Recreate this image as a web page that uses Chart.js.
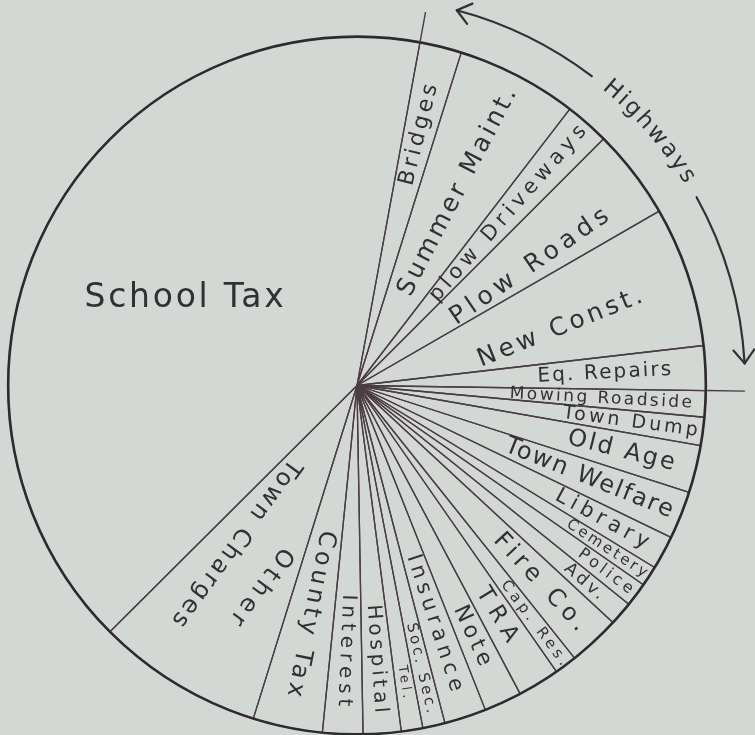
<!DOCTYPE html>
<html><head><meta charset="utf-8">
<script src="https://cdn.jsdelivr.net/npm/chart.js@4.4.0/dist/chart.umd.min.js"></script>
<style>html,body{margin:0;padding:0;background:#d3d8d5;}canvas{display:block;}</style>
</head><body>
<canvas id="c" width="755" height="735"></canvas>
<script>
// ---- data (share of town budget, %) ----
const categories = ["Bridges","Summer Maint.","plow Driveways","Plow Roads","New Const.","Eq. Repairs","Mowing Roadside","Town Dump","Old Age","Town Welfare","Library","Cemetery","Police","Adv.","Fire Co.","Cap. Res.","TRA","Note","Insurance","Soc. Sec.","Tel.","Hospital","Interest","County Tax","Other Town Charges","School Tax"];
const values = [1.94,5.61,2.06,4.17,6.50,2.06,1.22,1.31,2.19,2.22,1.56,0.94,1.11,1.11,2.39,1.03,1.94,1.75,1.94,1.03,1.00,1.75,1.86,3.22,7.72,40.36];
const groupName = "Highways";
const groupFirst = "Bridges";
const groupLast = "Eq. Repairs";

// ---- label styling (positions/sizes only) ----
const labelRadius = [.74,.625,.656,.60,.605,.71,.70,.79,.78,.716,.80,.855,.89,.86,.77,.85,.77,.79,.716,.83,.86,.785,.76,.667,.60,.555];
const labelSize   = [22,25,21,25,25,20,17,19,24,24,21,15,16,17,24,15,23,22,21,15,13,20,20,24,24,33];
const labelLength = [107,234,232,192,179,136,185,139,112,181,108,96,68,50,130,106,68,68,148,95,37,112,117,173,205,202];
const labelTweaks = {
  "Plow Roads": {da: 3},
  "New Const.": {da: 2.5, tilt: -6},
  "School Tax": {da: -1, rot: 0},
  "Other Town Charges": {tilt: 5, lines: [["Other", 10, -23, 96], ["Town Charges", -10, 23, 205]]}
};

const FONT = '"DejaVu Sans", sans-serif';
const INK = '#333032';
const LINE = '#4a3d43';
const deg = Math.PI / 180;

function fitText(ctx, txt, size, len, x, y) {
  ctx.font = size + 'px ' + FONT;
  ctx.letterSpacing = '0px';
  const w = ctx.measureText(txt).width;
  const ls = Math.max(0, (len - w) / txt.length);
  ctx.letterSpacing = ls + 'px';
  ctx.fillText(txt, x + ls / 2, y);
  ctx.letterSpacing = '0px';
}

const handPlugin = {
  id: 'hand',
  afterDatasetsDraw(chart) {
    const ctx = chart.ctx;
    const arcs = chart.getDatasetMeta(0).data;
    const p0 = arcs[0].getProps(['x','y','outerRadius'], true);
    const cx = p0.x, cy = p0.y, R = p0.outerRadius;
    ctx.save();
    // outer rim
    ctx.beginPath(); ctx.arc(cx, cy, R, 0, 2*Math.PI);
    ctx.lineWidth = 2.6; ctx.strokeStyle = '#2f2a2d'; ctx.stroke();

    // group extension lines
    const a0 = arcs[categories.indexOf(groupFirst)].startAngle;
    const a1 = arcs[categories.indexOf(groupLast)].endAngle;
    ctx.strokeStyle = LINE; ctx.lineWidth = 1.4;
    function radial(a, r1, r2) {
      ctx.beginPath();
      ctx.moveTo(cx + r1*Math.cos(a), cy + r1*Math.sin(a));
      ctx.lineTo(cx + r2*Math.cos(a), cy + r2*Math.sin(a));
      ctx.stroke();
    }
    radial(a0, R, R*1.088);
    radial(a1, R, R*1.112);

    // Highways bracket arrow
    const Rh = R * 1.113;
    const s1 = a0 + 4.5*deg, e1 = a0 + 26.8*deg;
    const s2 = a0 + 50.6*deg, e2 = a1 - 4.1*deg;
    ctx.strokeStyle = '#333032'; ctx.lineWidth = 2.2; ctx.lineCap = 'round';
    ctx.beginPath(); ctx.arc(cx, cy, Rh, s1, e1); ctx.stroke();
    ctx.beginPath(); ctx.arc(cx, cy, Rh, s2, e2); ctx.stroke();
    function head(t, dirSign) {
      const px = cx + Rh*Math.cos(t), py = cy + Rh*Math.sin(t);
      const dx = dirSign * -Math.sin(t), dy = dirSign * Math.cos(t);
      const back = Math.atan2(-dy, -dx);
      const L = 17;
      [-38, 38].forEach(o => {
        const b = back + o*deg;
        ctx.beginPath(); ctx.moveTo(px, py);
        ctx.lineTo(px + L*Math.cos(b), py + L*Math.sin(b)); ctx.stroke();
      });
    }
    head(s1, -1);
    head(e2, 1);
    // curved group title
    ctx.fillStyle = INK;
    ctx.font = '23px ' + FONT;
    ctx.textAlign = 'center'; ctx.textBaseline = 'middle';
    const Rt = R * 1.12;
    const chars = groupName.split('');
    const widths = chars.map(c => ctx.measureText(c).width);
    const gap = 2.5;
    const total = widths.reduce((s,w)=>s+w,0) + gap*(chars.length-1);
    const mid = a0 + 38.6*deg;
    let pos = -total/2;
    chars.forEach((c, k) => {
      const ang = mid + (pos + widths[k]/2) / Rt;
      ctx.save();
      ctx.translate(cx + Rt*Math.cos(ang), cy + Rt*Math.sin(ang));
      ctx.rotate(ang + Math.PI/2);
      ctx.fillText(c, 0, 0);
      ctx.restore();
      pos += widths[k] + gap;
    });

    // slice labels
    ctx.fillStyle = INK;
    arcs.forEach((arc, i) => {
      const name = categories[i];
      const tw = labelTweaks[name] || {};
      const m = (arc.startAngle + arc.endAngle)/2 + (tw.da || 0)*deg;
      const r = labelRadius[i] * R;
      const x = cx + r*Math.cos(m), y = cy + r*Math.sin(m);
      const rot = (tw.rot !== undefined) ? tw.rot*deg : m + (tw.tilt || 0)*deg;
      ctx.save();
      ctx.translate(x, y); ctx.rotate(rot);
      if (tw.lines) {
        tw.lines.forEach(l => fitText(ctx, l[0], labelSize[i], l[3], l[1], l[2]));
      } else {
        fitText(ctx, name, labelSize[i], labelLength[i], 0, 0);
      }
      ctx.restore();
    });
    ctx.restore();
  }
};

new Chart(document.getElementById('c'), {
  type: 'pie',
  data: {
    labels: categories,
    datasets: [{
      data: values,
      backgroundColor: 'rgba(0,0,0,0)',
      borderColor: LINE,
      borderWidth: 1.3,
      borderAlign: 'center'
    }]
  },
  options: {
    responsive: false,
    devicePixelRatio: 1,
    animation: false,
    events: [],
    rotation: 10.4,
    layout: {padding: {left: 7, top: 36, right: 48, bottom: 0}},
    plugins: {legend: {display: false}, tooltip: {enabled: false}}
  },
  plugins: [handPlugin]
});
</script>
</body></html>
